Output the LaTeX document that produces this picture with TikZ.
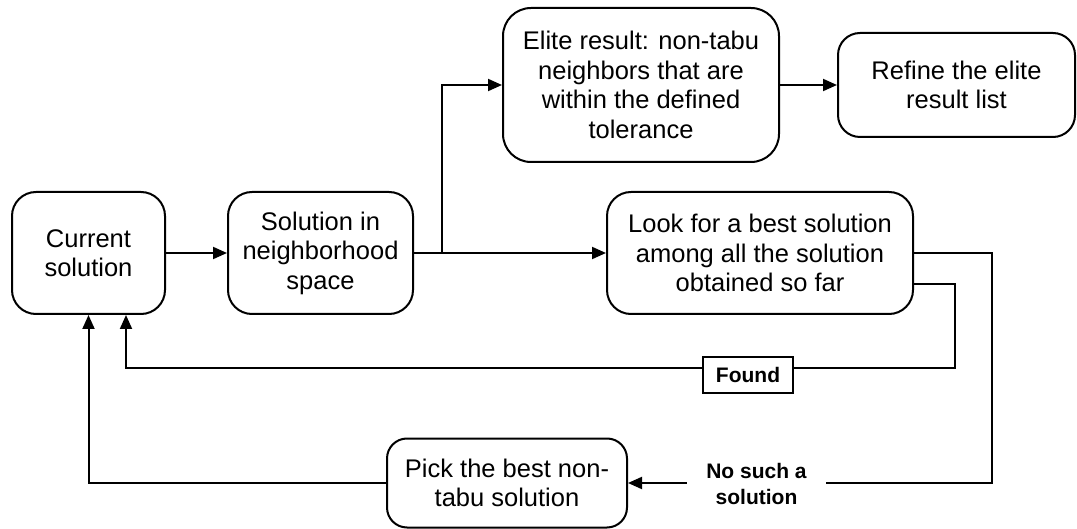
\documentclass[tikz,border=0pt]{standalone}
\usepackage{fontspec}
\setmainfont{Liberation Sans}
\usetikzlibrary{arrows.meta}
\begin{document}
\begin{tikzpicture}[x=1pt,y=-1pt,line width=2pt,
  box/.style={draw, rounded corners=#1, align=center, inner sep=0pt,
    font=\fontsize{25.5}{29.5}\selectfont},
  box/.default=22pt,
  lbl/.style={font=\bfseries\fontsize{21}{26.5}\selectfont, align=center},
  arr/.style={-{Triangle[length=14pt,width=12pt]}}]
\useasboundingbox (0,0) rectangle (1077,529);
\node[box=24pt, minimum width=153pt, minimum height=122pt] (cur) at (88.5,253) {Current\\solution};
\node[box=24pt, minimum width=185pt, minimum height=122pt] (sol) at (320.5,253) {Solution in\\neighborhood\\space};
\node[box=28pt, minimum width=276pt, minimum height=154pt] (elite) at (641,85) {Elite result: non-tabu\\neighbors that are\\within the defined\\tolerance};
\node[box=22pt, minimum width=237pt, minimum height=104pt] (refine) at (956.5,85) {Refine the elite\\result list};
\node[box=24pt, minimum width=306pt, minimum height=122pt] (look) at (760,253) {Look for a best solution\\among all the solution\\obtained so far};
\node[box=20pt, minimum width=240pt, minimum height=89pt] (pick) at (507,483) {Pick the best non-\\tabu solution};
\coordinate (br) at (442,253);
\coordinate (c1) at (992,253);
\coordinate (c2) at (955,368);
\draw[arr] (cur.east) -- (sol.west);
\draw[arr] (sol.east) -- (look.west);
\draw[arr] (br) |- (elite.west);
\draw[arr] (elite.east) -- (refine.west);
\draw[arr] (look.east) -- (c1) |- (pick.east);
\node[lbl, fill=white, minimum width=139pt, inner ysep=0pt] (ns) at (756.5,484) {No such a\\solution};
\draw[arr] ([yshift=-31pt]look.east) -| (c2) -| ([xshift=37.5pt]cur.south);
\node[draw, fill=white, font=\bfseries\fontsize{21}{25}\selectfont, minimum width=90pt, minimum height=36pt, inner sep=0pt] (found) at (748,375) {Found};
\draw[arr] (pick.west) -| (cur.south);
\end{tikzpicture}
\end{document}
